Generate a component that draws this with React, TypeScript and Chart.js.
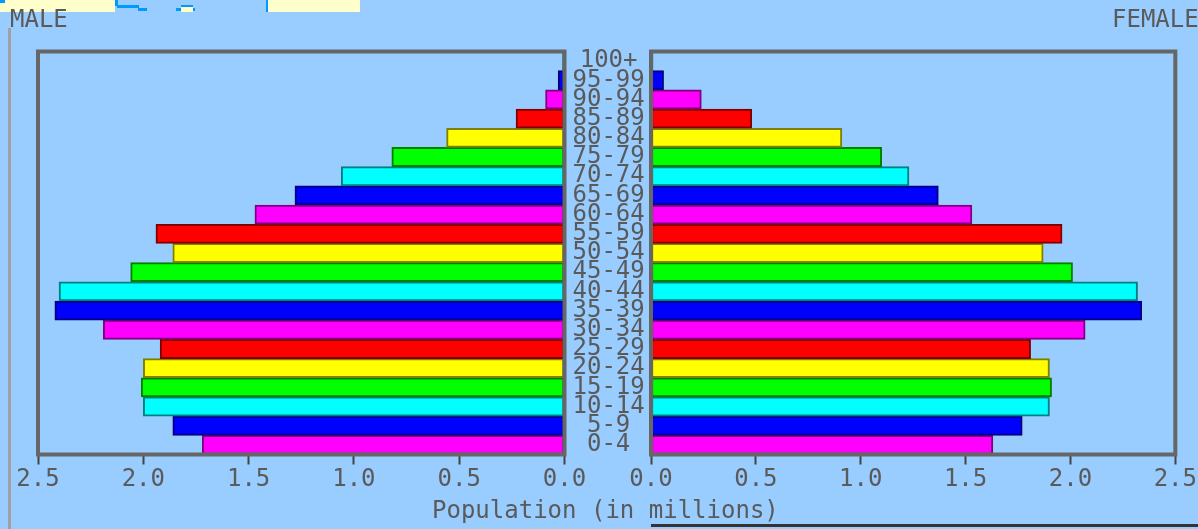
import React, { useEffect, useRef } from "react";
import { Chart, registerables } from "chart.js";

Chart.register(...registerables);

// ---- data ----
const AGES = ["0-4", "5-9", "10-14", "15-19", "20-24", "25-29", "30-34", "35-39", "40-44", "45-49", "50-54", "55-59", "60-64", "65-69", "70-74", "75-79", "80-84", "85-89", "90-94", "95-99", "100+"];
const MALE = [1.72, 1.86, 2.0, 2.01, 2.0, 1.92, 2.19, 2.42, 2.4, 2.06, 1.86, 1.94, 1.47, 1.28, 1.06, 0.82, 0.56, 0.23, 0.09, 0.03, 0.01];
const FEMALE = [1.63, 1.77, 1.9, 1.91, 1.9, 1.81, 2.07, 2.34, 2.32, 2.01, 1.87, 1.96, 1.53, 1.37, 1.23, 1.1, 0.91, 0.48, 0.24, 0.06, 0.01];
const AXIS_MIN = 0;
const AXIS_MAX = 2.5;
const TICK_STEP = 0.5;
const LEFT_TITLE = "MALE";
const RIGHT_TITLE = "FEMALE";
const X_TITLE = "Population (in millions)";

// ---- styles ----
const W = 1198;
const H = 529;
const BG = "#99CCFF";
const FONT = "'DejaVu Sans Mono', monospace";
const TEXT = "#5a5a5a";
const FILL_CYCLE = ["#FF00FF", "#0000FF", "#00FFFF", "#00FF00", "#FFFF00", "#FF0000"];
const EDGE_CYCLE = ["#800080", "#000080", "#008080", "#008000", "#808000", "#800000"];
const AXIS_H = 50;
const TOP = 51.5;
const BOTTOM = 454.5;
const L_LEFT = 38;
const L_RIGHT = 564.5;
const R_LEFT = 651;
const R_RIGHT = 1177;

const framePlugin = {
  id: "frame",
  afterDatasetsDraw(chart: any) {
    const { ctx, chartArea: a } = chart;
    ctx.save();
    ctx.strokeStyle = "#666666";
    ctx.lineWidth = 4;
    ctx.strokeRect(a.left, a.top, a.right - a.left, a.bottom - a.top);
    ctx.restore();
  },
};

function buildConfig(values: number[], male: boolean): any {
  const fills = values.map((_, i) => FILL_CYCLE[i % FILL_CYCLE.length]);
  const edges = values.map((_, i) => EDGE_CYCLE[i % EDGE_CYCLE.length]);
  return {
    type: "bar",
    data: {
      labels: AGES,
      datasets: [
        {
          data: values,
          backgroundColor: fills,
          borderColor: edges,
          borderWidth: 2,
          borderSkipped: false,
          barPercentage: 1,
          categoryPercentage: 1,
        },
      ],
    },
    options: {
      responsive: false,
      animation: false,
      indexAxis: "y",
      layout: {
        padding: male
          ? { left: L_LEFT, right: W - R_LEFT, top: TOP, bottom: H - BOTTOM - AXIS_H }
          : { left: R_LEFT, right: W - R_RIGHT, top: TOP, bottom: H - BOTTOM - AXIS_H },
      },
      plugins: { legend: { display: false }, tooltip: { enabled: false } },
      scales: {
        x: {
          type: "linear",
          min: AXIS_MIN,
          max: AXIS_MAX,
          reverse: male,
          ticks: {
            stepSize: TICK_STEP,
            callback: (v: any) => Number(v).toFixed(1),
            font: { family: FONT, size: 24 },
            color: TEXT,
            padding: 1,
            maxRotation: 0,
            autoSkip: false,
          },
          grid: {
            display: true,
            drawOnChartArea: false,
            drawTicks: true,
            tickLength: 10,
            tickColor: "#444444",
            tickWidth: 2,
          },
          border: { display: false },
          afterFit: (s: any) => {
            s.height = AXIS_H;
          },
        },
        y: {
          type: "category",
          reverse: true,
          display: male,
          position: "right",
          ticks: {
            autoSkip: false,
            font: { family: FONT, size: 24 },
            color: TEXT,
            padding: 0,
            crossAlign: "center",
          },
          grid: { display: false },
          border: { display: false },
          afterFit: (s: any) => {
            s.width = male ? R_LEFT - L_RIGHT : 0;
          },
        },
      },
    },
    plugins: [framePlugin],
  };
}

function PyramidHalf({ values, male }: { values: number[]; male: boolean }) {
  const ref = useRef<HTMLCanvasElement | null>(null);
  useEffect(() => {
    if (!ref.current) return;
    const chart = new Chart(ref.current, buildConfig(values, male));
    return () => chart.destroy();
  }, [values, male]);
  return (
    <canvas
      ref={ref}
      width={W}
      height={H}
      style={{ position: "absolute", left: 0, top: 0, width: W, height: H }}
    />
  );
}

const textStyle: React.CSSProperties = {
  position: "absolute",
  fontFamily: FONT,
  fontSize: 24,
  lineHeight: "24px",
  color: TEXT,
  whiteSpace: "nowrap",
};

export default function App() {
  return (
    <div
      style={{
        position: "fixed",
        left: 0,
        top: 0,
        width: W,
        height: H,
        background: BG,
        overflow: "hidden",
      }}
    >
      {/* cropped map strip at top-left */}
      <div style={{ position: "absolute", left: 0, top: 0, width: 115, height: 12, background: "#FFFFCC" }} />
      <div style={{ position: "absolute", left: 268, top: 0, width: 92, height: 12, background: "#FFFFCC" }} />
      <div style={{ position: "absolute", left: 181, top: 7, width: 12, height: 5, background: "#FFFFCC" }} />
      <div style={{ position: "absolute", left: 0, top: 0, width: 5, height: 3, background: "#0099FF" }} />
      <div style={{ position: "absolute", left: 115, top: 0, width: 3, height: 6, background: "#0099FF" }} />
      <div style={{ position: "absolute", left: 117, top: 5, width: 22, height: 3, background: "#0099FF" }} />
      <div style={{ position: "absolute", left: 138, top: 8, width: 9, height: 3, background: "#0099FF" }} />
      <div style={{ position: "absolute", left: 176, top: 8, width: 5, height: 3, background: "#0099FF" }} />
      <div style={{ position: "absolute", left: 181, top: 5, width: 12, height: 2, background: "#0099FF" }} />
      <div style={{ position: "absolute", left: 193, top: 8, width: 2, height: 3, background: "#0099FF" }} />
      <div style={{ position: "absolute", left: 266, top: 0, width: 2, height: 12, background: "#0099FF" }} />
      {/* frame lines of the page */}
      <div style={{ position: "absolute", left: 8, top: 28, width: 3, height: H - 28, background: "#A0A0A0" }} />
      <div style={{ position: "absolute", left: R_LEFT, top: 524, width: W - R_LEFT, height: 3, background: "#333333" }} />

      <PyramidHalf values={MALE} male={true} />
      <PyramidHalf values={FEMALE} male={false} />

      <div style={{ ...textStyle, left: 10, top: 7 }}>{LEFT_TITLE}</div>
      <div style={{ ...textStyle, left: 1112, top: 7 }}>{RIGHT_TITLE}</div>
      <div style={{ ...textStyle, left: 432, top: 498 }}>{X_TITLE}</div>
    </div>
  );
}
